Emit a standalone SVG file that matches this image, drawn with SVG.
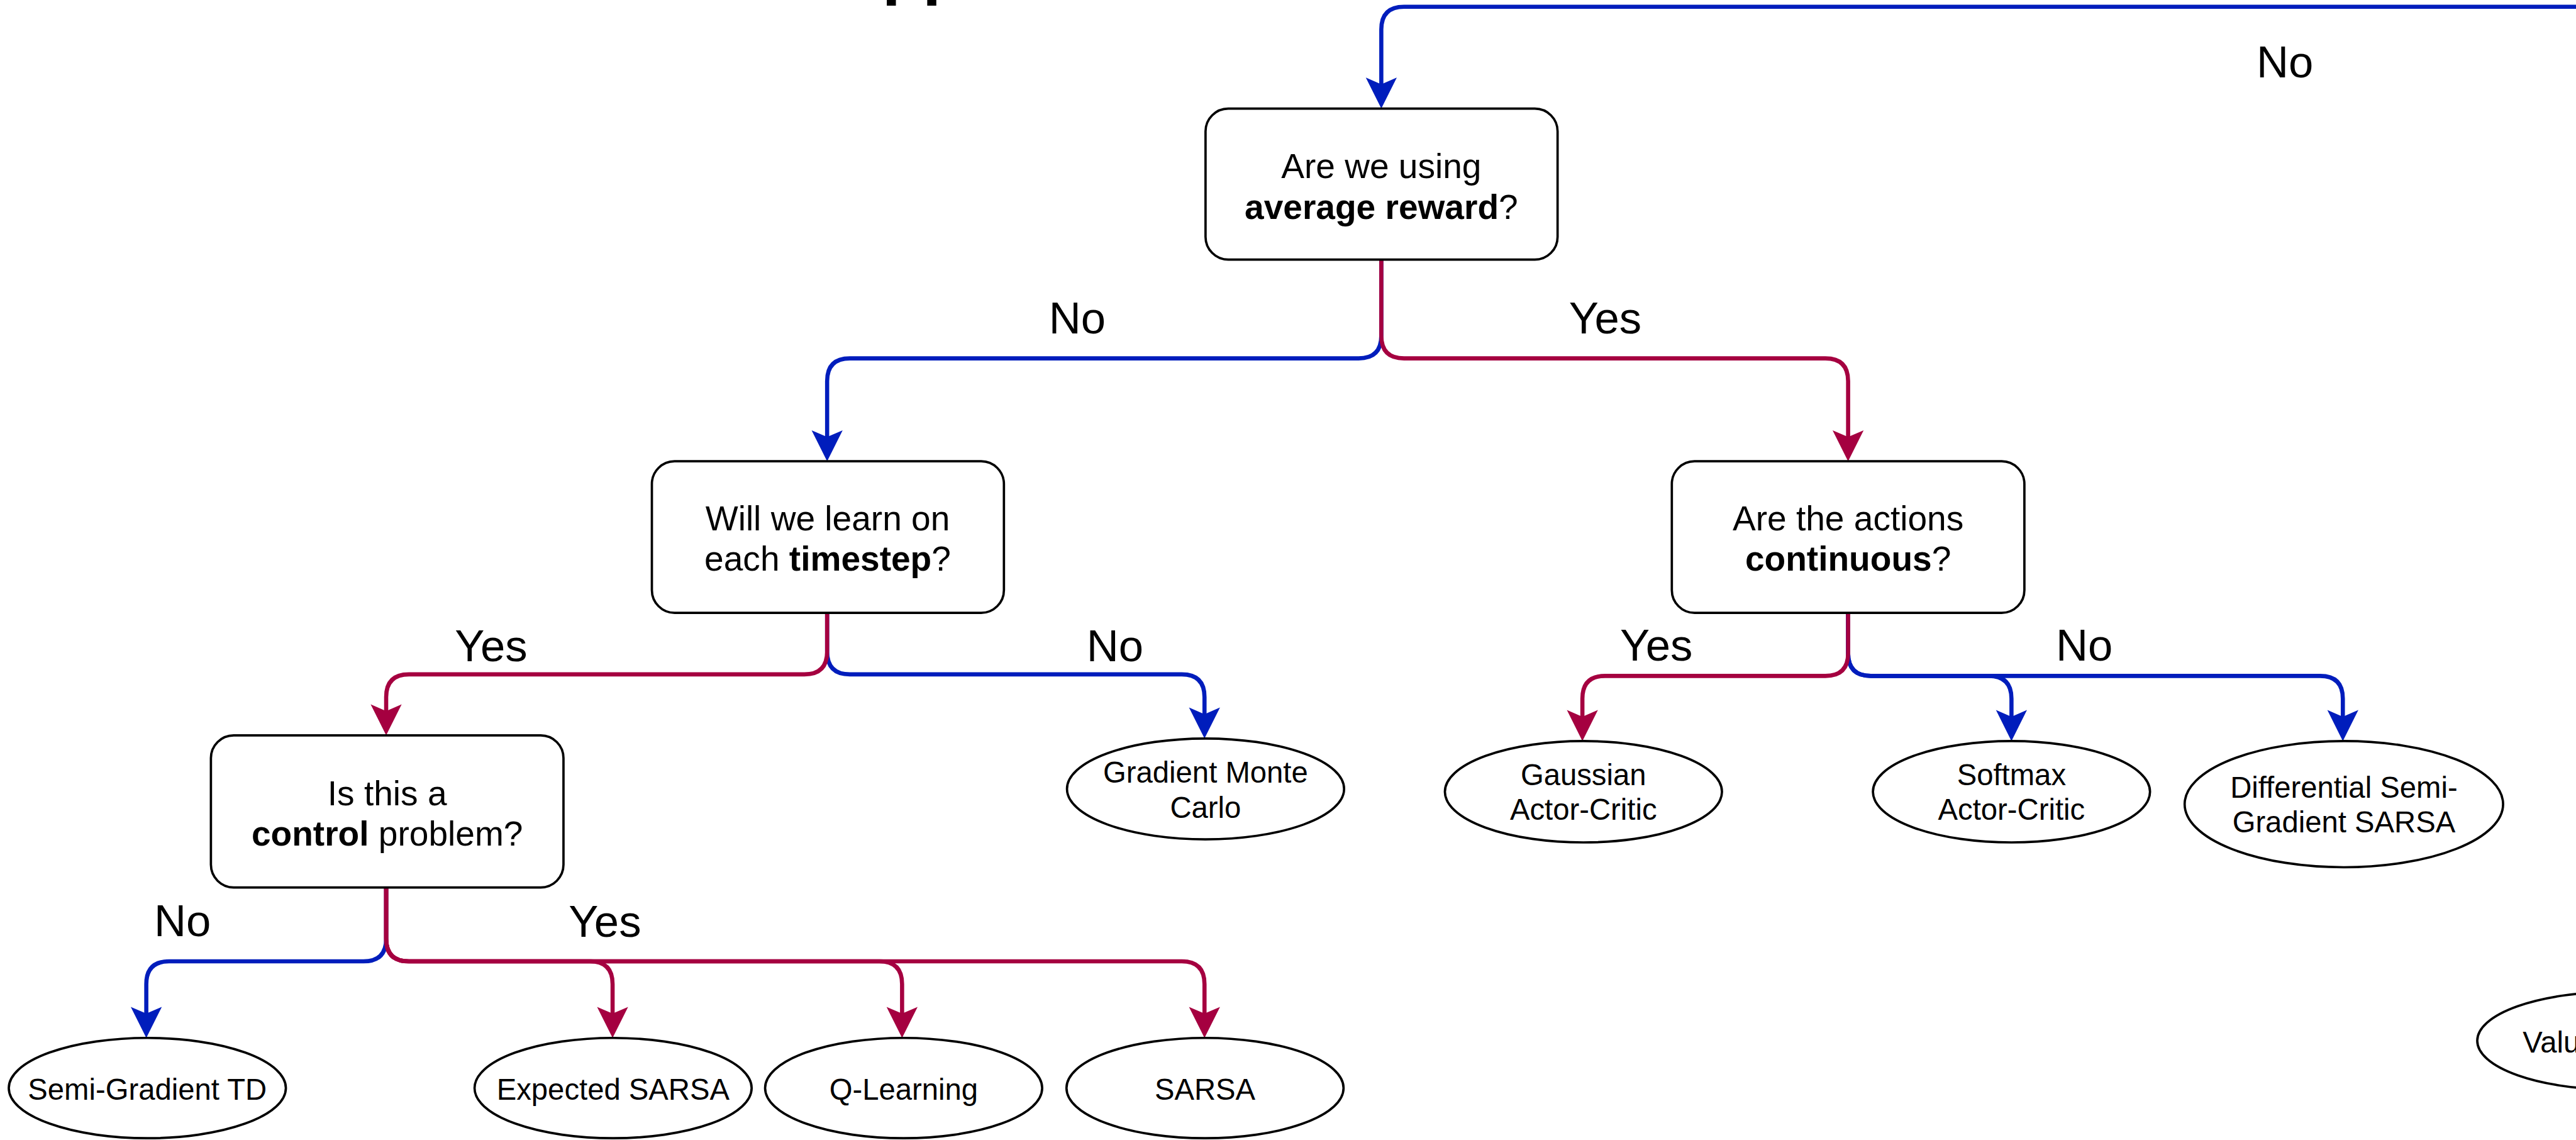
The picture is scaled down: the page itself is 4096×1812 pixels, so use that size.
<svg xmlns="http://www.w3.org/2000/svg" width="4096" height="1812" viewBox="0 0 4096 1812">
  <defs>
    <style>
      .box { fill: #ffffff; stroke: #000000; stroke-width: 4.5; }
      .leaf { fill: #ffffff; stroke: #000000; stroke-width: 4.5; }
      .q { font-family: "Liberation Sans", Arial, Helvetica, sans-serif; font-size: 67px; fill: #000000; text-anchor: middle; }
      .t { font-family: "Liberation Sans", Arial, Helvetica, sans-serif; font-size: 57.5px; fill: #000000; text-anchor: middle; }
      .lbl { font-family: "Liberation Sans", Arial, Helvetica, sans-serif; font-size: 86px; fill: #000000; }
      .title { font-family: "Liberation Sans", Arial, Helvetica, sans-serif; font-size: 128px; font-weight: bold; fill: #000000; }
      .b { font-weight: bold; }
      .no { fill: none; stroke: #001DBC; stroke-width: 8; marker-end: url(#arrowBlue); }
      .yes { fill: none; stroke: #A50040; stroke-width: 8; marker-end: url(#arrowRed); }
    </style>
    <marker id="arrowBlue" viewBox="-70 -35 80 70" refX="-40" refY="0" markerWidth="80" markerHeight="70" markerUnits="userSpaceOnUse" orient="auto">
      <path d="M 0 0 L -60 -30 L -47 0 L -60 30 Z" fill="#001DBC"/>
    </marker>
    <marker id="arrowRed" viewBox="-70 -35 80 70" refX="-40" refY="0" markerWidth="80" markerHeight="70" markerUnits="userSpaceOnUse" orient="auto">
      <path d="M 0 0 L -60 -30 L -47 0 L -60 30 Z" fill="#A50040"/>
    </marker>
  </defs>

  <rect x="0" y="0" width="4096" height="1812" fill="#ffffff"/>

  <g transform="scale(0.82199)">
    <!-- title, mostly above the top edge -->
    <text class="title" x="1706.5" y="-15.5">pp</text>

    <!-- connectors: blue "No" branches first, red "Yes" branches on top -->
    <g id="connectors">
      <path class="no" d="M 5010 13 H 2716 Q 2672 13 2672 57 V 170"/>
      <path class="no" d="M 2672 502 V 649 Q 2672 693 2628 693 H 1644 Q 1600 693 1600 737 V 852"/>
      <path class="no" d="M 1600 1185 V 1260 Q 1600 1304 1644 1304 H 2286 Q 2330 1304 2330 1348 V 1388"/>
      <path class="no" d="M 3575 1185 V 1263 Q 3575 1307 3619 1307 H 3847 Q 3891 1307 3891 1351 V 1393"/>
      <path class="no" d="M 3575 1185 V 1263 Q 3575 1307 3619 1307 H 4488 Q 4532 1307 4532 1351 V 1393"/>
      <path class="no" d="M 747 1716 V 1815 Q 747 1859 703 1859 H 327 Q 283 1859 283 1903 V 1967"/>

      <path class="yes" d="M 2672 502 V 649 Q 2672 693 2716 693 H 3531 Q 3575 693 3575 737 V 852"/>
      <path class="yes" d="M 1600 1185 V 1260 Q 1600 1304 1556 1304 H 791 Q 747 1304 747 1348 V 1382"/>
      <path class="yes" d="M 3575 1185 V 1263 Q 3575 1307 3531 1307 H 3105 Q 3061 1307 3061 1351 V 1393"/>
      <path class="yes" d="M 747 1716 V 1815 Q 747 1859 791 1859 H 1141 Q 1185 1859 1185 1903 V 1967"/>
      <path class="yes" d="M 747 1716 V 1815 Q 747 1859 791 1859 H 1701 Q 1745 1859 1745 1903 V 1967"/>
      <path class="yes" d="M 747 1716 V 1815 Q 747 1859 791 1859 H 2286 Q 2330 1859 2330 1903 V 1967"/>

      <!-- branch labels -->
      <text class="lbl" x="4365" y="150">No</text>
      <text class="lbl" x="2029" y="645">No</text>
      <text class="lbl" x="3035" y="645">Yes</text>
      <text class="lbl" x="880" y="1279">Yes</text>
      <text class="lbl" x="2102" y="1279">No</text>
      <text class="lbl" x="3134" y="1277">Yes</text>
      <text class="lbl" x="3977" y="1277">No</text>
      <text class="lbl" x="298" y="1810">No</text>
      <text class="lbl" x="1100" y="1811">Yes</text>
    </g>

    <!-- decision nodes -->
    <g id="avg-reward">
      <rect class="box" x="2332" y="210" width="681" height="292" rx="44" ry="44"/>
      <text class="q" x="2672" y="344">Are we using</text>
      <text class="q" x="2672" y="423"><tspan class="b">average reward</tspan>?</text>
    </g>
    <g id="each-timestep">
      <rect class="box" x="1261" y="892" width="681" height="293" rx="44" ry="44"/>
      <text class="q" x="1601" y="1026">Will we learn on</text>
      <text class="q" x="1601" y="1104">each <tspan class="b">timestep</tspan>?</text>
    </g>
    <g id="continuous">
      <rect class="box" x="3234" y="892" width="682" height="293" rx="44" ry="44"/>
      <text class="q" x="3575" y="1026">Are the actions</text>
      <text class="q" x="3575" y="1104"><tspan class="b">continuous</tspan>?</text>
    </g>
    <g id="control">
      <rect class="box" x="408" y="1422" width="682" height="294" rx="44" ry="44"/>
      <text class="q" x="749" y="1557">Is this a</text>
      <text class="q" x="749" y="1635"><tspan class="b">control</tspan> problem?</text>
    </g>

    <!-- algorithm leaves -->
    <g id="semi-gradient-td">
      <ellipse class="leaf" cx="285" cy="2104" rx="268" ry="97"/>
      <text class="t" x="285" y="2126">Semi-Gradient TD</text>
    </g>
    <g id="expected-sarsa">
      <ellipse class="leaf" cx="1186" cy="2104" rx="268" ry="97"/>
      <text class="t" x="1186" y="2127">Expected SARSA</text>
    </g>
    <g id="q-learning">
      <ellipse class="leaf" cx="1748" cy="2104" rx="268" ry="97"/>
      <text class="t" x="1748" y="2127">Q-Learning</text>
    </g>
    <g id="sarsa">
      <ellipse class="leaf" cx="2331" cy="2104" rx="268" ry="97"/>
      <text class="t" x="2331" y="2127">SARSA</text>
    </g>
    <g id="gradient-monte-carlo">
      <ellipse class="leaf" cx="2332" cy="1525.5" rx="268" ry="97.5"/>
      <text class="t" x="2332" y="1514">Gradient Monte</text>
      <text class="t" x="2332" y="1582">Carlo</text>
    </g>
    <g id="gaussian-ac">
      <ellipse class="leaf" cx="3063" cy="1531" rx="268" ry="98"/>
      <text class="t" x="3063" y="1518">Gaussian</text>
      <text class="t" x="3063" y="1585">Actor-Critic</text>
    </g>
    <g id="softmax-ac">
      <ellipse class="leaf" cx="3891" cy="1531" rx="268" ry="98"/>
      <text class="t" x="3891" y="1518">Softmax</text>
      <text class="t" x="3891" y="1585">Actor-Critic</text>
    </g>
    <g id="differential-sarsa">
      <ellipse class="leaf" cx="4534" cy="1555" rx="308" ry="122"/>
      <text class="t" x="4534" y="1542">Differential Semi-</text>
      <text class="t" x="4534" y="1609">Gradient SARSA</text>
    </g>
    <g id="value-leaf">
      <ellipse class="leaf" cx="5060" cy="2012.5" rx="268" ry="94.5"/>
      <text class="t" x="4880" y="2035" style="text-anchor: start">Valu</text>
    </g>
  </g>
</svg>
